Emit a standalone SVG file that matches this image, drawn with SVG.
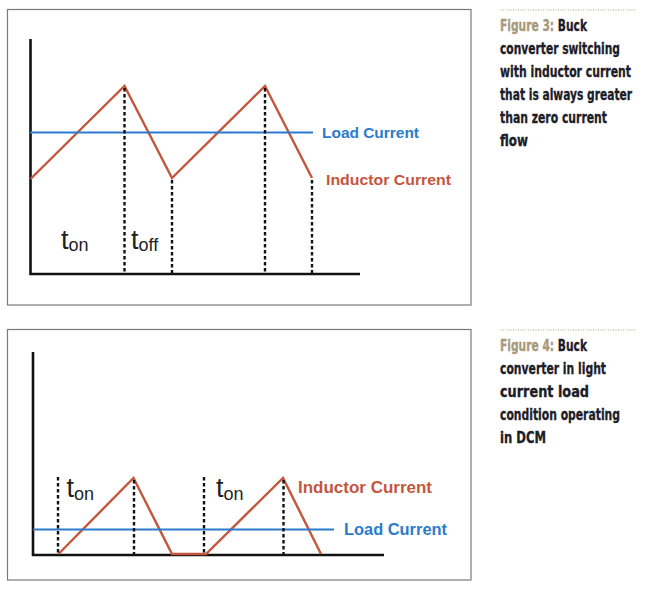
<svg xmlns="http://www.w3.org/2000/svg" width="647" height="589" viewBox="0 0 647 589">
<style>
.panel{fill:#fff;stroke:#7a7a7a;stroke-width:1.2}
.axis{stroke:#111;stroke-width:2.6;fill:none}
.load{stroke:#2b7bcd;stroke-width:2.2;fill:none}
.ind{stroke:#c4563e;stroke-width:2.4;fill:none;stroke-linejoin:miter}
.dash{stroke:#111;stroke-width:2.4;stroke-dasharray:3.5 2.5;fill:none}
.lbl{font-family:"Liberation Sans",Arial,sans-serif;font-weight:bold}
.blue{fill:#2b7bcd}
.red{fill:#c4563e}
.t{font-family:"Liberation Sans",Arial,sans-serif;fill:#222}
.cap{font-family:"Liberation Sans Narrow","DejaVu Sans Condensed","Liberation Sans",sans-serif;font-weight:bold;font-size:15px;fill:#1c1c28;stroke:#1c1c28;stroke-width:0.3}
.fig{fill:#a8987c;stroke:#a8987c}
.dots{stroke:#b0a48c;stroke-width:1;stroke-dasharray:1 1.5}
</style>
<rect width="647" height="589" fill="#fff"/>
<g id="figure3">
<rect class="panel" x="7.5" y="9.5" width="463.5" height="295.5"/>
<g id="connectors3">
<polyline class="axis" points="30.5,39 30.5,274 360,274"/>
<polyline class="ind" points="30.5,179 124.5,86 172,178 265,86 312,178"/>
<line class="load" x1="30" y1="132.5" x2="313" y2="132.5"/>
<line class="dash" x1="124.5" y1="88" x2="124.5" y2="274"/>
<line class="dash" x1="172" y1="180" x2="172" y2="274"/>
<line class="dash" x1="265" y1="88" x2="265" y2="274"/>
<line class="dash" x1="312" y1="180" x2="312" y2="274"/>
</g>
<g id="labels3">
<text class="lbl blue" x="322" y="138" font-size="15" textLength="97" lengthAdjust="spacingAndGlyphs">Load Current</text>
<text class="lbl red" x="326" y="185" font-size="15" textLength="125" lengthAdjust="spacingAndGlyphs">Inductor Current</text>
<text class="t" x="61" y="249" font-size="27">t<tspan font-size="18" dy="2">on</tspan></text>
<text class="t" x="131" y="249" font-size="27">t<tspan font-size="18" dy="2">off</tspan></text>
</g>
</g>
<g id="caption3">
<line class="dots" x1="500.5" y1="10" x2="636" y2="10"/>
<text class="cap" x="500" y="30.5" textLength="87" lengthAdjust="spacingAndGlyphs"><tspan class="fig">Figure 3:</tspan> Buck</text>
<text class="cap" x="500" y="53.5" textLength="120" lengthAdjust="spacingAndGlyphs">converter switching</text>
<text class="cap" x="500" y="76.5" textLength="131" lengthAdjust="spacingAndGlyphs">with inductor current</text>
<text class="cap" x="500" y="99.5" textLength="132" lengthAdjust="spacingAndGlyphs">that is always greater</text>
<text class="cap" x="500" y="122.5" textLength="107" lengthAdjust="spacingAndGlyphs">than zero current</text>
<text class="cap" x="500" y="145.5" textLength="28" lengthAdjust="spacingAndGlyphs">flow</text>
</g>
<g id="figure4">
<rect class="panel" x="7.5" y="329.5" width="463.5" height="250.5"/>
<g id="connectors4">
<polyline class="axis" points="33,352 33,555 384,555"/>
<polyline class="ind" points="58.5,554 133.5,478 172,554 206,554 283,478 321,554"/>
<line class="load" x1="33" y1="529.5" x2="334" y2="529.5"/>
<line class="dash" x1="58" y1="477" x2="58" y2="555"/>
<line class="dash" x1="134" y1="480" x2="134" y2="555"/>
<line class="dash" x1="204" y1="477" x2="204" y2="555"/>
<line class="dash" x1="283.5" y1="480" x2="283.5" y2="555"/>
</g>
<g id="labels4">
<text class="lbl red" x="298" y="493" font-size="16" textLength="134" lengthAdjust="spacingAndGlyphs">Inductor Current</text>
<text class="lbl blue" x="344" y="535" font-size="16" textLength="103" lengthAdjust="spacingAndGlyphs">Load Current</text>
<text class="t" x="66.5" y="497" font-size="27">t<tspan font-size="18" dy="3">on</tspan></text>
<text class="t" x="216" y="497" font-size="27">t<tspan font-size="18" dy="3">on</tspan></text>
</g>
</g>
<g id="caption4">
<line class="dots" x1="500.5" y1="330" x2="636" y2="330"/>
<text class="cap" x="500" y="350.5" textLength="87" lengthAdjust="spacingAndGlyphs"><tspan class="fig">Figure 4:</tspan> Buck</text>
<text class="cap" x="500" y="373.5" textLength="106" lengthAdjust="spacingAndGlyphs">converter in light</text>
<text class="cap" x="500" y="396.5" textLength="89" lengthAdjust="spacingAndGlyphs">current load</text>
<text class="cap" x="500" y="419.5" textLength="120" lengthAdjust="spacingAndGlyphs">condition operating</text>
<text class="cap" x="500" y="442.5" textLength="46" lengthAdjust="spacingAndGlyphs">in DCM</text>
</g>
</svg>
